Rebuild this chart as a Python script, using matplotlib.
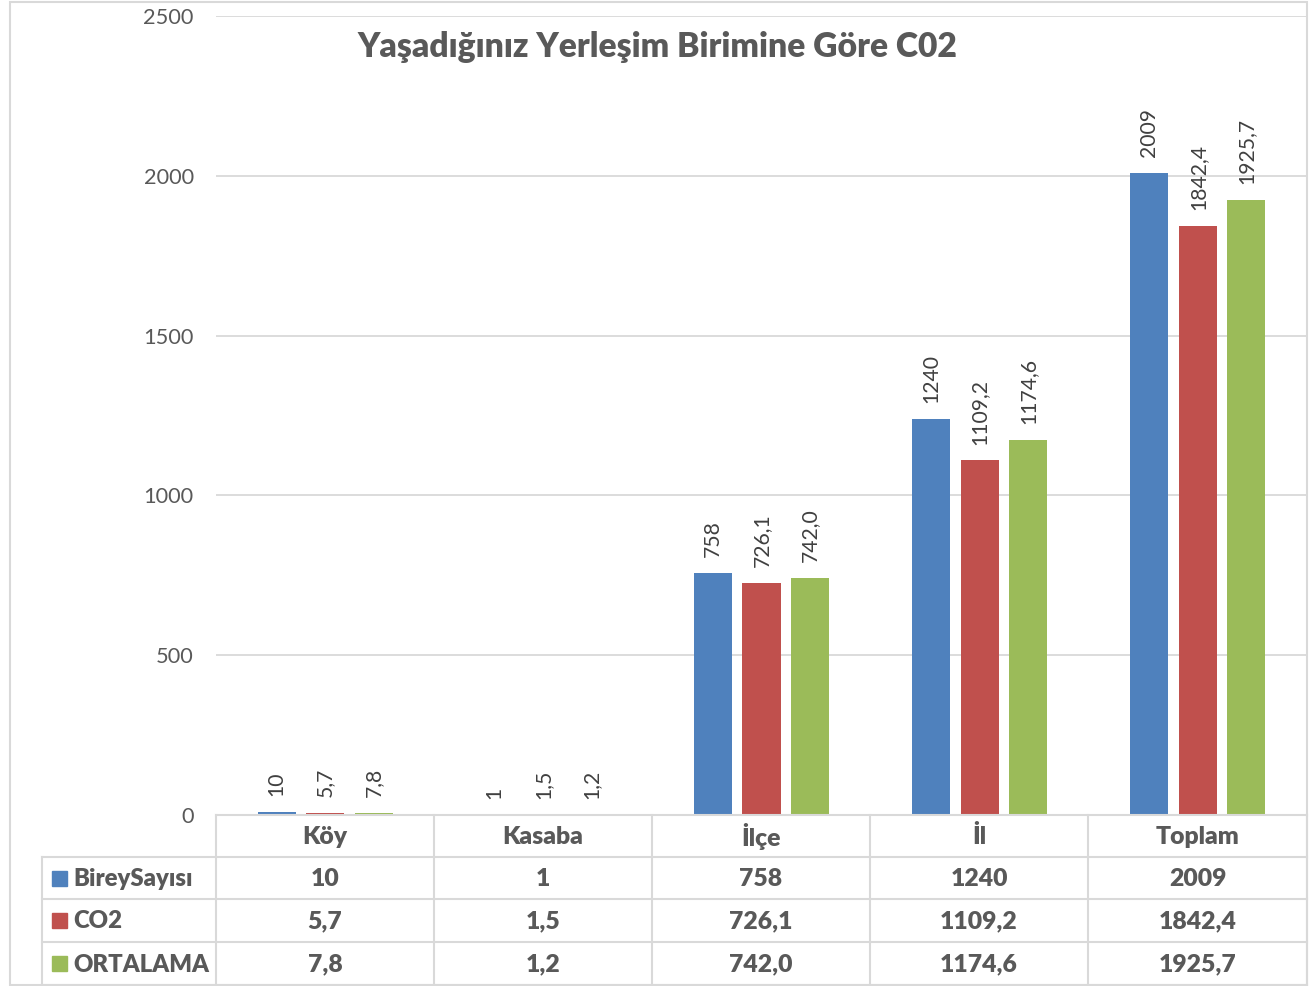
import matplotlib
matplotlib.use("Agg")
import matplotlib.pyplot as plt
from matplotlib.patches import Rectangle
from matplotlib.lines import Line2D

categories = ["Köy", "Kasaba", "İlçe", "İl", "Toplam"]
series_names = ["BireySayısı", "CO2", "ORTALAMA"]
birey = [10, 1, 758, 1240, 2009]
co2 = [5.7, 1.5, 726.1, 1109.2, 1842.4]
ortalama = [7.8, 1.2, 742.0, 1174.6, 1925.7]
birey_lbl = ["10", "1", "758", "1240", "2009"]
co2_lbl = ["5,7", "1,5", "726,1", "1109,2", "1842,4"]
ort_lbl = ["7,8", "1,2", "742,0", "1174,6", "1925,7"]
title = "Yaşadığınız Yerleşim Birimine Göre C02"
yticks = [0, 500, 1000, 1500, 2000, 2500]

colors = ["#4F81BD", "#C0504D", "#9BBB59"]
text_col = "#595959"
grid_col = "#D9D9D9"
FONT = "Lato"
plt.rcParams['font.family'] = [FONT, 'DejaVu Sans']
BOLD = "heavy"

W, H = 1313, 986
fig = plt.figure(figsize=(W / 100, H / 100), dpi=100)

def fx(px):
    return px / W

def fy(py):
    return 1 - py / H

# plot area
L, R, T, B = 216, 1307, 16, 815
ax = fig.add_axes([fx(L), fy(B), fx(R) - fx(L), fy(T) - fy(B)])
ax.set_xlim(-0.5, 4.5)
ax.set_ylim(0, 2500)
for s in ax.spines.values():
    s.set_visible(False)
ax.set_yticks(yticks)
ax.set_yticklabels([str(v) for v in yticks])
ax.tick_params(axis='y', length=0, pad=16, labelsize=15.7, labelcolor=text_col)
ax.set_xticks([])
ax.grid(axis='y', color=grid_col, linewidth=1.3)
ax.set_axisbelow(True)

bw = 38 / 218
step = 48.5 / 218
all_vals = [birey, co2, ortalama]
all_lbls = [birey_lbl, co2_lbl, ort_lbl]
for i, (vals, lbls) in enumerate(zip(all_vals, all_lbls)):
    xs = [k + (i - 1) * step for k in range(len(categories))]
    ax.bar(xs, vals, width=bw, color=colors[i], linewidth=0, zorder=3)
    for x, v, t in zip(xs, vals, lbls):
        ax.annotate(t, (x, v), xytext=(0, 11.5), textcoords="offset points",
                    rotation=90, ha="center", va="bottom", fontsize=15.2,
                    color="#404040")

# title
fig.text(fx(657), fy(47), title, ha="center", va="center", fontsize=24.2,
         fontweight=BOLD, color=text_col)

# outer chart border
fig.add_artist(Rectangle((fx(10), fy(985)), fx(1307) - fx(10), fy(2) - fy(985),
                         transform=fig.transFigure, fill=False,
                         edgecolor=grid_col, linewidth=1.5))

# data table
rows_y = [815, 857, 899, 942, 985]
cols_x = [216, 434, 652, 870, 1088, 1307]
lw = 1.5

def hline(y, x0, x1):
    fig.add_artist(Line2D([fx(x0), fx(x1)], [fy(y), fy(y)], transform=fig.transFigure,
                          color=grid_col, linewidth=lw))

def vline(x, y0, y1):
    fig.add_artist(Line2D([fx(x), fx(x)], [fy(y0), fy(y1)], transform=fig.transFigure,
                          color=grid_col, linewidth=lw))

hline(rows_y[0], cols_x[0], cols_x[-1])
for y in rows_y[1:]:
    hline(y, 42, cols_x[-1])
for x in cols_x:
    vline(x, rows_y[0], rows_y[-1])
vline(42, rows_y[1], rows_y[-1])

tsize = 17.8
for k, cat in enumerate(categories):
    cx = (cols_x[k] + cols_x[k + 1]) / 2
    fig.text(fx(cx), fy((rows_y[0] + rows_y[1]) / 2 + 1), cat, ha="center", va="center",
             fontsize=tsize, fontweight=BOLD, color=text_col)
    for r in range(3):
        cy = (rows_y[r + 1] + rows_y[r + 2]) / 2 + 1
        fig.text(fx(cx), fy(cy), all_lbls[r][k], ha="center", va="center",
                 fontsize=tsize, fontweight=BOLD, color=text_col)

for r in range(3):
    cy = (rows_y[r + 1] + rows_y[r + 2]) / 2
    fig.add_artist(Rectangle((fx(52), fy(cy + 7.5)), fx(15), fy(0) - fy(15),
                             transform=fig.transFigure, color=colors[r]))
    fig.text(fx(73), fy(cy + 1), series_names[r], ha="left", va="center",
             fontsize=17.2, fontweight=BOLD, color=text_col)

fig.savefig("out.png", dpi=100, facecolor="white")
